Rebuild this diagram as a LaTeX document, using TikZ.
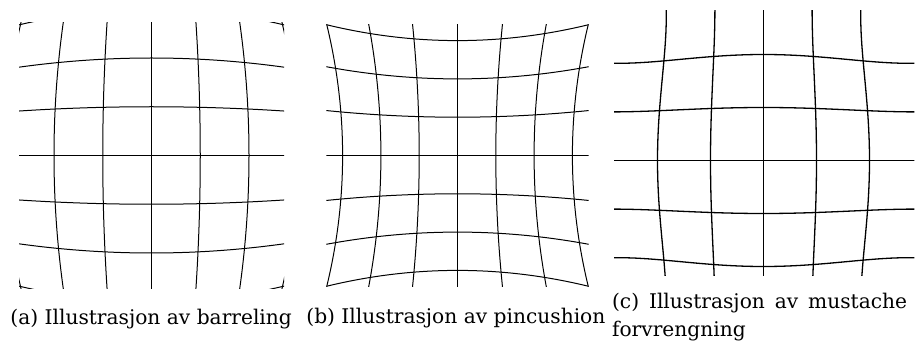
\documentclass[tikz,border=0pt]{standalone}
\usepackage{fontspec}
\setmainfont{DejaVu Serif}
\usepackage{tikz}
\hyphenpenalty=10000

\begin{document}
\begin{tikzpicture}[
    x=0.5pt, y=-0.5pt,
    every node/.style={inner sep=0pt},
    gridline/.style={line width=0.5pt, draw=black},
    capt/.style    ={font=\fontsize{10.1}{14.2}\selectfont},
    declare function={gm(\q)=1-0.01971*(\q)*(\q)+0.001178*(\q)*(\q)*(\q)*(\q);},
  ]
  \useasboundingbox (0,0) rectangle (920,347);

  %% =====================================================================
  %% Panel (a): barrel
  %% =====================================================================
  \begin{scope}
    \def\cx{151.5}    % centre
    \def\cy{155.5}
    \def\gap{48.75}   % grid spacing on the axes
    \def\kap{-0.01159}
    \clip (19,23) rectangle (284,288);
    \foreach \u in {-3,...,3} {
      % vertical line u
      \draw[gridline] plot[domain=-3.4:3.4, samples=61, variable=\t]
        ({\cx+\gap*(\u)*(1+\kap*(\t)*(\t))}, {\cy+\gap*(\t)*(1+\kap*(\u)*(\u))});
      % horizontal line u
      \draw[gridline] plot[domain=-3.4:3.4, samples=61, variable=\t]
        ({\cx+\gap*(\t)*(1+\kap*(\u)*(\u))}, {\cy+\gap*(\u)*(1+\kap*(\t)*(\t))});
    }
  \end{scope}

  %% =====================================================================
  %% Panel (b): pincushion
  %% =====================================================================
  \begin{scope}
    \def\cx{457.5}
    \def\cy{155.5}
    \def\gap{38.3}
    \def\kap{0.01528}
    \clip (326.3,24.3) rectangle (588.7,286.7);
    \foreach \u in {-3,...,3} {
      \draw[gridline] plot[domain=-3.6:3.6, samples=61, variable=\t]
        ({\cx+\gap*(\u)*(1+\kap*(\t)*(\t))}, {\cy+\gap*(\t)*(1+\kap*(\u)*(\u))});
      \draw[gridline] plot[domain=-3.6:3.6, samples=61, variable=\t]
        ({\cx+\gap*(\t)*(1+\kap*(\u)*(\u))}, {\cy+\gap*(\u)*(1+\kap*(\t)*(\t))});
    }
  \end{scope}

  %% =====================================================================
  %% Panel (c): mustache
  %% =====================================================================
  \begin{scope}
    \def\cx{763.5}
    \def\cy{160.5}
    \def\gap{53}
    \clip (614,10.7) rectangle (914.3,275);
    \foreach \u in {-2,...,2} {
      \draw[gridline, line width=0.65pt] plot[domain=-3.3:3.3, samples=81, variable=\t]
        ({\cx+\gap*(\u)*gm(\t)}, {\cy+\gap*(\t)*gm(\u)});
      \draw[gridline, line width=0.65pt] plot[domain=-3.3:3.3, samples=81, variable=\t]
        ({\cx+\gap*(\t)*gm(\u)}, {\cy+\gap*(\u)*gm(\t)});
    }
  \end{scope}

  %% captions
  \node[capt, anchor=base west] (capA) at (10,324) {(a) Illustrasjon av barreling};
  \node[capt, anchor=base west] (capB) at (306,323.5) {(b) Illustrasjon av pincushion};
  \node[capt, anchor=base west, text width=147.5pt, align=justify] (capC)
        at (611.7,308.3) {(c) Illustrasjon av mustache forvrengning};

\end{tikzpicture}
\end{document}
